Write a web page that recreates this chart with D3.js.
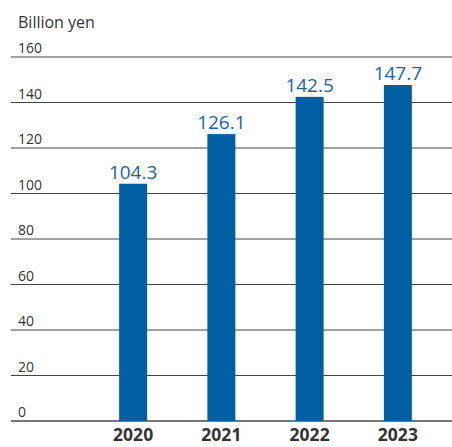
<!DOCTYPE html>
<html>
<head>
<meta charset="utf-8">
<script src="https://cdn.jsdelivr.net/npm/d3@7"></script>
<style>
  body { margin: 0; background: #fff; }
  text { font-family: "Open Sans", sans-serif; }
</style>
</head>
<body>
<div id="chart"></div>
<script>
// chart data
var years = ["2020", "2021", "2022", "2023"];
var sales = [104.3, 126.1, 142.5, 147.7];
var yTicks = [0, 20, 40, 60, 80, 100, 120, 140, 160];
var unitLabel = "Billion yen";

var width = 452, height = 447;
var svg = d3.select("#chart").append("svg")
    .attr("width", width)
    .attr("height", height);

var y = d3.scaleLinear().domain([0, 160]).range([421, 57]);
var x = d3.scaleBand().domain(years).range([89, 442])
    .paddingInner(0.683).paddingOuter(0.3415);

// gridlines + tick labels
var grid = svg.append("g");
grid.selectAll("line")
    .data(yTicks)
    .enter().append("line")
    .attr("x1", 11).attr("x2", width)
    .attr("y1", function(d) { return y(d); })
    .attr("y2", function(d) { return y(d); })
    .attr("stroke", function(d) { return d === 0 ? "#777" : "#444"; })
    .attr("stroke-width", function(d) { return d === 0 ? 2 : 1; });

grid.selectAll("text")
    .data(yTicks)
    .enter().append("text")
    .attr("x", 18)
    .attr("y", function(d) { return y(d) - 4; })
    .attr("fill", "#333")
    .attr("font-size", 14)
    .text(function(d) { return d; });

svg.append("text")
    .attr("x", 18).attr("y", 28)
    .attr("fill", "#333")
    .attr("font-size", 16)
    .text(unitLabel);

var data = years.map(function(d, i) { return {year: d, value: sales[i]}; });

// bars
svg.selectAll("rect.bar")
    .data(data)
    .enter().append("rect")
    .classed("bar", true)
    .attr("x", function(d) { return x(d.year); })
    .attr("width", x.bandwidth())
    .attr("y", function(d) { return y(d.value); })
    .attr("height", function(d) { return y(0) - y(d.value); })
    .attr("fill", "#005ea2");

// value labels
svg.selectAll("text.val")
    .data(data)
    .enter().append("text")
    .classed("val", true)
    .attr("x", function(d) { return x(d.year) + x.bandwidth() / 2; })
    .attr("y", function(d) { return y(d.value) - 5; })
    .attr("text-anchor", "middle")
    .attr("fill", "#1565ad")
    .attr("font-size", 19)
    .text(function(d) { return d.value.toFixed(1); });

// year labels
svg.selectAll("text.year")
    .data(data)
    .enter().append("text")
    .classed("year", true)
    .attr("x", function(d) { return x(d.year) + x.bandwidth() / 2; })
    .attr("y", 441)
    .attr("text-anchor", "middle")
    .attr("fill", "#333")
    .attr("font-size", 17.5)
    .attr("font-weight", "bold")
    .text(function(d) { return d.year; });
</script>
</body>
</html>
